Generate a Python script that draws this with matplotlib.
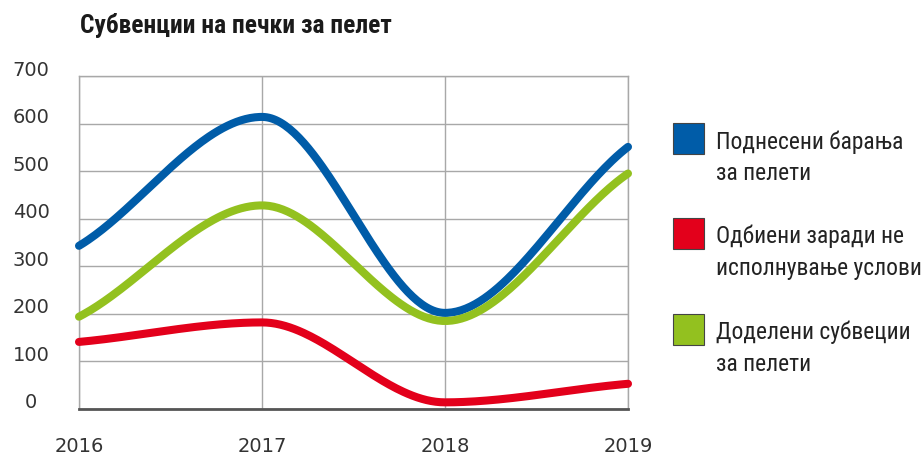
import numpy as np
import matplotlib
matplotlib.use("Agg")
import matplotlib.pyplot as plt
from matplotlib.patches import Rectangle
from matplotlib import font_manager as fm
from matplotlib.ft2font import FT2Font
import matplotlib.transforms as mtransforms

years = [2016, 2017, 2018, 2019]
podneseni = [343, 614, 202, 551]
odbieni = [141, 182, 14, 53]
dodeleni = [194, 428, 185, 495]
series_labels = [["Поднесени барања", "за пелети"],
                 ["Одбиени заради не", "исполнување услови"],
                 ["Доделени субвеции", "за пелети"]]
colors = ["#005CA8", "#E3001B", "#93C11F"]
yticks = [0, 100, 200, 300, 400, 500, 600, 700]
title = "Субвенции на печки за пелет"

ALL = {}
for f in fm.findSystemFonts() + [e.fname for e in fm.fontManager.ttflist]:
    ALL.setdefault(f.split("/")[-1].lower(), f)


def pick(cands):
    for c in cands:
        f = ALL.get(c.lower())
        if f:
            try:
                ft = FT2Font(f)
                if all(ft.get_char_index(ord(ch)) for ch in "бвцњП"):
                    return f
            except Exception:
                pass
    return None


tb = pick(["RobotoCondensed-Bold.ttf", "PTSansNarrow-Bold.ttf", "PT_Sans-Narrow-Web-Bold.ttf",
           "FiraSansCondensed-Bold.ttf", "OpenSansCondensed-Bold.ttf", "OpenSans_Condensed-Bold.ttf",
           "LiberationSansNarrow-Bold.ttf", "DejaVuSansCondensed-Bold.ttf"])
lr = pick(["RobotoCondensed-Regular.ttf", "PTSansNarrow-Regular.ttf", "PT_Sans-Narrow-Web-Regular.ttf",
           "FiraSansCondensed-Regular.ttf", "OpenSansCondensed-Regular.ttf",
           "LiberationSansNarrow-Regular.ttf", "DejaVuSansCondensed.ttf"])
title_fp = fm.FontProperties(fname=tb) if tb else fm.FontProperties(family="DejaVu Sans", weight="bold")
leg_fp = fm.FontProperties(fname=lr) if lr else fm.FontProperties(family="DejaVu Sans")


def monotone_curve(x, y, end_factor=0.85, n=80):
    x = np.asarray(x, float); y = np.asarray(y, float)
    h = np.diff(x); s = np.diff(y) / h
    m = np.zeros_like(y)
    for i in range(1, len(x) - 1):
        p = (s[i - 1] * h[i] + s[i] * h[i - 1]) / (h[i - 1] + h[i])
        m[i] = (np.sign(s[i - 1]) + np.sign(s[i])) * min(abs(s[i - 1]), abs(s[i]), 0.5 * abs(p))
    m[0] = end_factor * s[0]
    m[-1] = end_factor * s[-1]
    xs, ys = [], []
    for i in range(len(x) - 1):
        t = np.linspace(0, 1, n)
        h00 = 2 * t**3 - 3 * t**2 + 1
        h10 = t**3 - 2 * t**2 + t
        h01 = -2 * t**3 + 3 * t**2
        h11 = t**3 - t**2
        xs.append(x[i] + t * h[i])
        ys.append(h00 * y[i] + h10 * h[i] * m[i] + h01 * y[i + 1] + h11 * h[i] * m[i + 1])
    return np.concatenate(xs), np.concatenate(ys)


fig = plt.figure(figsize=(9.21, 4.55), dpi=100)
ax = fig.add_axes([79 / 921, 1 - 409 / 455, (628 - 79) / 921, (409 - 76) / 455])

for vals, c in zip([podneseni, odbieni, dodeleni], colors):
    xs, ys = monotone_curve(years, vals)
    ax.plot(xs, ys, color=c, lw=5.8, solid_capstyle="round", zorder=3, clip_on=False)

ax.set_xlim(years[0], years[-1])
ax.set_ylim(0, 700)
ax.set_yticks(yticks)
ax.set_xticks(years)
ax.grid(True, color="#A8A8A8", lw=1.0)
ax.set_axisbelow(True)
for sp in ["top", "right", "left"]:
    ax.spines[sp].set_color("#A8A8A8")
    ax.spines[sp].set_linewidth(1.0)
ax.spines["bottom"].set_color("#555555")
ax.spines["bottom"].set_linewidth(2.0)
ax.tick_params(length=0)
ax.set_yticklabels([])
ax.set_xticklabels([str(v) for v in years], fontsize=14, color="#333333")
ax.tick_params(axis="x", pad=20)

ytrans = mtransforms.blended_transform_factory(fig.transFigure, ax.transData)
off = mtransforms.ScaledTranslation(0, 6 / 100, fig.dpi_scale_trans)
for v in yticks:
    ax.text(31 / 921, v, str(v), transform=ytrans + off, ha="center", va="center",
            fontsize=14, color="#333333")

renderer = fig.canvas.get_renderer()


def fit_text(x, y, s, fp, target_w, **kw):
    t = fig.text(x, y, s, fontproperties=fp, **kw)
    t.set_fontsize(16)
    w = t.get_window_extent(renderer).width
    t.set_fontsize(16 * target_w / w)
    return t


fit_text(80 / 921, 1 - 32.5 / 455, title, title_fp, 313,
         color="#1a1a1a", va="baseline", ha="left")

probe = fit_text(0, 0, series_labels[0][0], leg_fp, 188)
leg_size = probe.get_fontsize()
probe.remove()

sq_tops = [123, 218, 314]
for top, c, lab in zip(sq_tops, colors, series_labels):
    fig.patches.append(Rectangle((673 / 921, 1 - (top + 31) / 455), 31 / 921, 31 / 455,
                                 transform=fig.transFigure, facecolor=c,
                                 edgecolor="#444444", lw=0.8))
    for j, line in enumerate(lab):
        fig.text(716 / 921, 1 - (top + 25.5 + 31.5 * j) / 455, line, fontproperties=leg_fp,
                 fontsize=leg_size, color="#222222", va="baseline", ha="left")

fig.savefig("out.png", dpi=100)
